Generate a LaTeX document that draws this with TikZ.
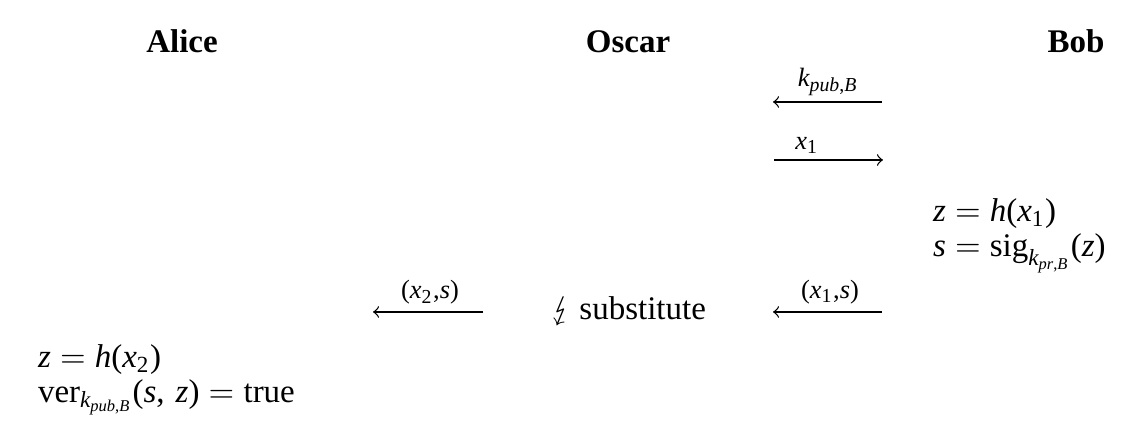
\documentclass[tikz,border=0pt]{standalone}
\usepackage{stmaryrd}
\usepackage[no-math]{fontspec}
\setmainfont{Liberation Serif}
\newfontfamily\timesfam{Liberation Serif}[NFSSFamily=ltimes]
\DeclareSymbolFont{letters}{TU}{ltimes}{m}{it}
\DeclareSymbolFont{operators}{TU}{ltimes}{m}{n}
\DeclareSymbolFont{cmops}{OT1}{cmr}{m}{n}
\DeclareMathSymbol{=}{\mathrel}{cmops}{"3D}
\AtBeginDocument{\mathcode`\,="602C}
\tikzset{
  every node/.style={inner sep=0pt, outer sep=0pt},
  head/.style={anchor=base, font=\bfseries},
  lbl/.style={anchor=base, font=\fontsize{12}{14}\selectfont},
  calc/.style={anchor=base west},
  msg/.style={line width=0.4pt, ->},
}
\begin{document}
\begin{tikzpicture}[x=0.303pt, y=-0.303pt]
\useasboundingbox (0,0) rectangle (1142,441);
% headers
\node[head] (alice) at (182,53) {Alice};
\node[head] (oscar) at (628,53) {Oscar};
\node[head] (bob) at (1076,53) {Bob};
% message 1: Bob -> Oscar
\coordinate (m1s) at (882,102);
\coordinate (m1e) at (773,102);
\draw[msg] (m1s) -- (m1e);
\node[lbl] (l1) at (828,87) {$\scriptstyle k_{pub,B}$};
% message 2: Oscar -> Bob
\coordinate (m2s) at (774,160);
\coordinate (m2e) at (883,160);
\draw[msg] (m2s) -- (m2e);
\node[lbl] (l2) at (807,150) {$\scriptstyle x_1$};
% Bob computation
\node[calc] (b1) at (933,222) {$z = h(x_1)$};
\node[calc] (b2) at (933,257) {$s = \mathrm{sig}_{k_{pr,B}}(z)$};
% message 3: Bob -> Oscar
\coordinate (m3s) at (882,312);
\coordinate (m3e) at (773,312);
\draw[msg] (m3s) -- (m3e);
\node[lbl] (l3) at (830,299) {$\scriptstyle (x_1,s)$};
% substitute
\node[anchor=base west] (sub) at (551,320) {$\lightning$ substitute};
% message 4: Oscar -> Alice
\coordinate (m4s) at (483,312);
\coordinate (m4e) at (373,312);
\draw[msg] (m4s) -- (m4e);
\node[lbl] (l4) at (430,299) {$\scriptstyle (x_2,s)$};
% Alice computation
\node[calc] (a1) at (38,368) {$z = h(x_2)$};
\node[calc] (a2) at (38,403) {$\mathrm{ver}_{k_{pub,B}}(s,\,z) = \mathrm{true}$};
\end{tikzpicture}
\end{document}
